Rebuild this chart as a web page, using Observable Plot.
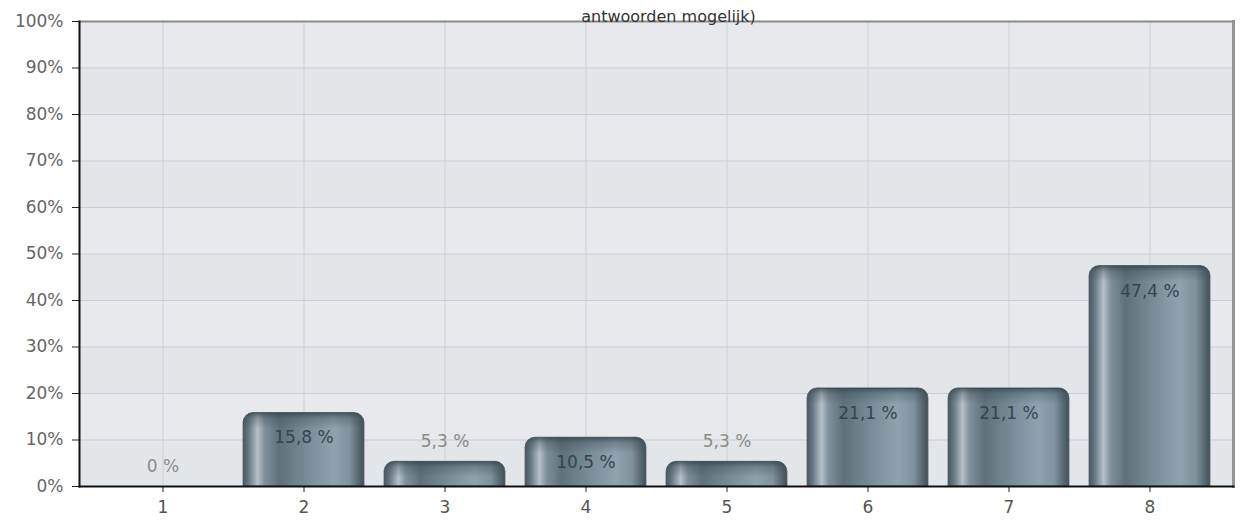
<!DOCTYPE html>
<html><head><meta charset="utf-8">
<script src="https://cdn.jsdelivr.net/npm/d3@7"></script>
<script src="https://cdn.jsdelivr.net/npm/@observablehq/plot@0.6"></script>
<style>
body{margin:0;background:#fff;}
#chart svg{display:block;overflow:hidden}
</style></head><body><div id="chart"></div>
<script>
const categories = ["1","2","3","4","5","6","7","8"];
const values = [0, 15.8, 5.3, 10.5, 5.3, 21.1, 21.1, 47.4];
const valueLabels = ["0 %","15,8 %","5,3 %","10,5 %","5,3 %","21,1 %","21,1 %","47,4 %"];
const yTicks = [0,10,20,30,40,50,60,70,80,90,100];
const titleText = "antwoorden mogelijk)";

const data = categories.map((c,i)=>({cat:c, value:values[i], label:valueLabels[i], inside: values[i] > 8}));
const bands = yTicks.slice(0,-1).map((t,i)=>({y1:t, y2:yTicks[i+1], alt:i%2}));

const plot = Plot.plot({
  width:1243, height:521, marginLeft:79, marginRight:10, marginTop:21, marginBottom:35,
  style:{fontFamily:"'DejaVu Sans', sans-serif", fontSize:"17px", background:"#fff", color:"#555", overflow:"hidden"},
  x:{domain:categories, paddingInner:0.145, paddingOuter:0.152, axis:null},
  y:{domain:[0,100], axis:null},
  marks:[
    Plot.frame({fill:"#e6e9ec"}),
    Plot.rectY(bands,{y1:"y1", y2:"y2", fill:d=>d.alt ? "#e7e9ec" : "#e3e6e9"}),
    Plot.gridY(yTicks,{stroke:"#c9cdd1", strokeOpacity:1}),
    Plot.gridX(categories,{stroke:"#ccd0d4", strokeOpacity:1}),
    Plot.frame({anchor:"top", stroke:"#8a8a8a", strokeWidth:2}),
    Plot.frame({anchor:"right", stroke:"#959595", strokeWidth:3}),
    Plot.barY(data,{x:"cat", y:"value", fill:"url(#barGrad)"}),
    Plot.text(data.filter(d=>d.inside),{x:"cat", y:"value", text:"label", dy:25, fill:"#36454e", fontSize:17}),
    Plot.text(data.filter(d=>!d.inside),{x:"cat", y:"value", text:"label", dy:-20, fill:"#8a8a8a", fontSize:17}),
    Plot.axisY(yTicks,{tickFormat:d=>d+"%", tickSize:7, tickPadding:9, stroke:"#222", fill:"#666", label:null}),
    Plot.axisX(categories,{tickSize:6, tickPadding:8, stroke:"#222", fill:"#555", label:null}),
    Plot.frame({anchor:"left", stroke:"#111", strokeWidth:2}),
    Plot.frame({anchor:"bottom", stroke:"#111", strokeWidth:2}),
    Plot.text([titleText],{frameAnchor:"top", dx:12, dy:-11, fill:"#333", fontSize:16})
  ]
});

document.getElementById("chart").appendChild(plot);

// gradients and rounded-top bar shapes derived from Plot's rendered rects
const svg = d3.select(plot);
const defs = svg.insert("defs", ":first-child");
const hg = defs.append("linearGradient").attr("id","barGrad").attr("x1","0").attr("x2","1").attr("y1","0").attr("y2","0");
[[0,"#48565e"],[0.05,"#6a7b85"],[0.12,"#b5c0c6"],[0.18,"#7e909a"],[0.3,"#5f717b"],[0.55,"#7a8f9a"],[0.75,"#8ea3ae"],[0.88,"#7f939e"],[0.95,"#5b6b74"],[1,"#424f58"]]
  .forEach(([o,c])=>hg.append("stop").attr("offset",o).attr("stop-color",c));
const vg = defs.append("linearGradient").attr("id","capGrad").attr("x1","0").attr("x2","0").attr("y1","0").attr("y2","1");
[[0,"rgba(45,58,66,0.75)"],[0.35,"rgba(60,74,82,0.35)"],[1,"rgba(60,74,82,0)"]]
  .forEach(([o,c])=>vg.append("stop").attr("offset",o).attr("stop-color",c));

svg.selectAll('g[aria-label="bar"] rect').each(function(){
  const r = d3.select(this);
  const x = +r.attr("x"), y = +r.attr("y"), w = +r.attr("width"), h = +r.attr("height");
  const parent = this.parentNode;
  r.remove();
  if (!(h > 0)) return;
  const rad = Math.min(10, h, w/2);
  const shape = (hh)=>`M${x},${y+hh}V${y+rad}A${rad},${rad} 0 0 1 ${x+rad},${y}H${x+w-rad}A${rad},${rad} 0 0 1 ${x+w},${y+rad}V${y+hh}Z`;
  d3.select(parent).append("path").attr("d", shape(h)).attr("fill","url(#barGrad)").attr("stroke","#55646d").attr("stroke-width",0.8);
  d3.select(parent).append("path").attr("d", shape(Math.min(16,h))).attr("fill","url(#capGrad)");
});
</script></body></html>
